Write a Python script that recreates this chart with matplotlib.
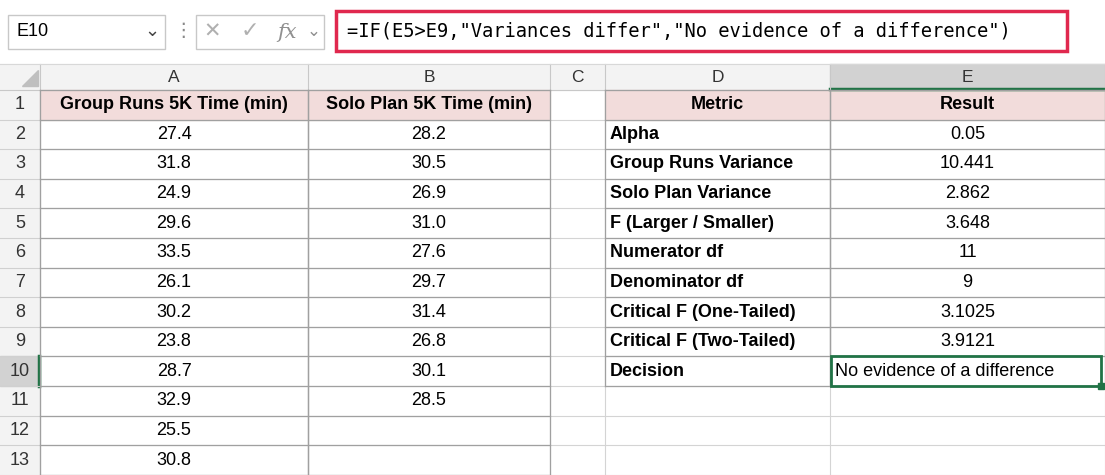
import matplotlib
matplotlib.use("Agg")
import matplotlib.pyplot as plt
from matplotlib.patches import Rectangle

group_runs = ["27.4","31.8","24.9","29.6","33.5","26.1","30.2","23.8","28.7","32.9","25.5","30.8"]
solo_plan = ["28.2","30.5","26.9","31.0","27.6","29.7","31.4","26.8","30.1","28.5"]
metrics = ["Alpha","Group Runs Variance","Solo Plan Variance","F (Larger / Smaller)","Numerator df",
           "Denominator df","Critical F (One-Tailed)","Critical F (Two-Tailed)","Decision"]
results = ["0.05","10.441","2.862","3.648","11","9","3.1025","3.9121","No evidence of a difference"]
headers = {"A":"Group Runs 5K Time (min)","B":"Solo Plan 5K Time (min)","D":"Metric","E":"Result"}
formula = '=IF(E5>E9,"Variances differ","No evidence of a difference")'

W, H = 1105, 475
fig = plt.figure(figsize=(W/100, H/100), dpi=100)
ax = fig.add_axes([0, 0, 1, 1])
ax.set_xlim(0, W); ax.set_ylim(H, 0); ax.axis("off")
plt.rcParams['font.family'] = ['Liberation Sans', 'DejaVu Sans']
F = 'Liberation Sans'

cols = {"A":(40,308),"B":(308,550),"C":(550,605),"D":(605,830),"E":(830,1105)}
hdr_top, hdr_bot = 64, 90
rtop, rh = 90, 29.6
grid = "#D4D4D4"

# toolbar
ax.add_patch(Rectangle((0,0),W,hdr_top,color="white"))
ax.add_patch(Rectangle((8,15),157,34,fill=False,ec="#C8C8C8",lw=1))
ax.text(16,32,"E10",fontsize=13,va="center",family=F)
ax.text(152,32,"⌄",fontsize=13,va="center",ha="center",color="#444")
ax.text(183,32,"⋮",fontsize=14,va="center",ha="center",color="#888")
ax.add_patch(Rectangle((196,15),128,34,fill=False,ec="#C8C8C8",lw=1))
ax.text(212,32,"✕",fontsize=15,va="center",ha="center",color="#B0B0B0")
ax.text(250,32,"✓",fontsize=16,va="center",ha="center",color="#B0B0B0")
ax.text(287,32,"fx",fontsize=15,va="center",ha="center",color="#909090",style="italic",family="DejaVu Serif")
ax.text(314,32,"⌄",fontsize=12,va="center",ha="center",color="#909090")
ax.add_patch(Rectangle((336,11),731,40,fill=False,ec="#E0284E",lw=2.5))
ax.text(347,32,formula,fontsize=13.5,va="center",family="DejaVu Sans Mono")

# column header strip
ax.add_patch(Rectangle((0,hdr_top),W,hdr_bot-hdr_top,color="#F3F3F3"))
ax.add_patch(Rectangle(cols["E"][:1]+(hdr_top,),cols["E"][1]-cols["E"][0],hdr_bot-hdr_top,color="#D2D2D2"))
ax.plot([cols["E"][0],W],[hdr_bot-1,hdr_bot-1],color="#217346",lw=2.5)
ax.plot([0,40,40],[hdr_top+3,hdr_top+3,hdr_top+3],color="#F3F3F3")
ax.fill([22,38,38],[86,86,70],color="#BFBFBF")
for k,(x0,x1) in cols.items():
    ax.text((x0+x1)/2,(hdr_top+hdr_bot)/2,k,fontsize=12.5,ha="center",va="center",family=F,color="#333")
    ax.plot([x1,x1],[hdr_top,hdr_bot],color="#C8C8C8",lw=0.8)
ax.plot([40,40],[hdr_top,H],color="#C8C8C8",lw=0.8)
ax.plot([0,W],[hdr_bot,hdr_bot],color="#C8C8C8",lw=0.8)
ax.plot([0,W],[hdr_top,hdr_top],color="#D8D8D8",lw=0.8)

# row numbers
ax.add_patch(Rectangle((0,hdr_bot),40,H-hdr_bot,color="#F3F3F3"))
for r in range(1,14):
    y0 = rtop+(r-1)*rh
    if r == 10:
        ax.add_patch(Rectangle((0,y0),40,rh,color="#D2D2D2"))
        ax.plot([39,39],[y0,y0+rh],color="#217346",lw=2.5)
    ax.text(20,y0+rh/2,str(r),fontsize=13,ha="center",va="center",family=F,color="#333")
    ax.plot([0,40],[y0+rh,y0+rh],color="#D0D0D0",lw=0.8)

# gridlines
for r in range(1,14):
    y = rtop+r*rh
    ax.plot([40,W],[y,y],color=grid,lw=0.8)
for k,(x0,x1) in cols.items():
    ax.plot([x1,x1],[rtop,H],color=grid,lw=0.8)

pink = "#F2DCDB"
def cell(col,row,txt,bold=False,ha="center",fill=None):
    x0,x1 = cols[col]; y0 = rtop+(row-1)*rh
    if fill: ax.add_patch(Rectangle((x0,y0),x1-x0,rh,color=fill,zorder=1))
    x = (x0+x1)/2 if ha=="center" else x0+5
    ax.text(x,y0+rh/2,txt,fontsize=13,ha=ha,va="center",family=F,
            fontweight="bold" if bold else "normal",zorder=3)

for k in "ABDE":
    cell(k,1,headers[k],bold=True,fill=pink)
for i,v in enumerate(group_runs): cell("A",i+2,v)
for i,v in enumerate(solo_plan): cell("B",i+2,v)
for i,(m,v) in enumerate(zip(metrics,results)):
    cell("D",i+2,m,bold=True,ha="left")
    cell("E",i+2,v,ha="left" if i==len(results)-1 else "center")

def box(c0,c1,r0,r1):
    x0=cols[c0][0]; x1=cols[c1][1]; y0=rtop+(r0-1)*rh; y1=rtop+r1*rh
    for r in range(r0,r1+1):
        y=rtop+r*rh
        if y<=H: ax.plot([x0,x1],[y,y],color="#A0A0A0",lw=0.9,zorder=2)
    ax.plot([x0,x1],[y0,y0],color="#A0A0A0",lw=0.9,zorder=2)
    for c in [c0,c1]:
        for xx in cols[c]:
            ax.plot([xx,xx],[y0,min(y1,H)],color="#A0A0A0",lw=0.9,zorder=2)
box("A","B",1,13); box("D","E",1,10)

# selected cell
y0 = rtop+9*rh
ax.add_patch(Rectangle((cols["E"][0]+1,y0),cols["E"][1]-cols["E"][0]-5,rh,fill=False,ec="#217346",lw=2,zorder=4))
ax.add_patch(Rectangle((cols["E"][1]-7,y0+rh-3),6,6,color="#217346",zorder=5))

fig.savefig("out.png",dpi=100)
